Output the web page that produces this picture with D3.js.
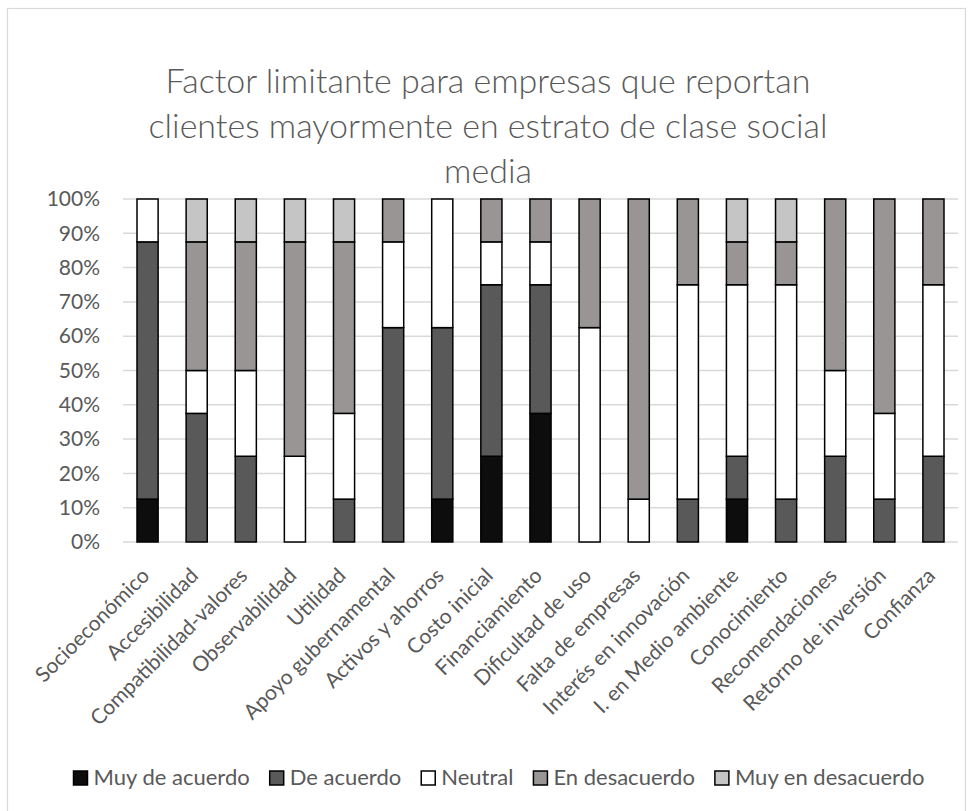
<!DOCTYPE html>
<html><head><meta charset="utf-8">
<script src="https://cdn.jsdelivr.net/npm/d3@7"></script>
<style>body{margin:0;background:#fff} text{font-family:Lato,"Open Sans",sans-serif}</style>
</head><body><svg id="c" width="974" height="811"></svg>
<script>
const categories = ["Socioeconómico","Accesibilidad","Compatibilidad-valores","Observabilidad","Utilidad","Apoyo gubernamental","Activos y ahorros","Costo inicial","Financiamiento","Dificultad de uso","Falta de empresas","Interés en innovación","I. en Medio ambiente","Conocimiento","Recomendaciones","Retorno de inversión","Confianza"];
const seriesNames = ["Muy de acuerdo","De acuerdo","Neutral","En desacuerdo","Muy en desacuerdo"];
const muyDeAcuerdo    = [12.5,0,0,0,0,0,12.5,25,37.5,0,0,0,12.5,0,0,0,0];
const deAcuerdo       = [75,37.5,25,0,12.5,62.5,50,50,37.5,0,0,12.5,12.5,12.5,25,12.5,25];
const neutral         = [12.5,12.5,25,25,25,25,37.5,12.5,12.5,62.5,12.5,62.5,50,62.5,25,25,50];
const enDesacuerdo    = [0,37.5,37.5,62.5,50,12.5,0,12.5,12.5,37.5,87.5,25,12.5,12.5,50,62.5,25];
const muyEnDesacuerdo = [0,12.5,12.5,12.5,12.5,0,0,0,0,0,0,0,12.5,12.5,0,0,0];
const yTicks = [0,10,20,30,40,50,60,70,80,90,100];
const colors = ["#0d0d0d","#595959","#ffffff","#989594","#c6c5c5"];
const titleLines = ["Factor limitante para empresas que reportan","clientes mayormente en estrato de clase social","media"];

const seriesValues = [muyDeAcuerdo, deAcuerdo, neutral, enDesacuerdo, muyEnDesacuerdo];
const rows = categories.map((c,i)=>{const r={cat:c}; seriesNames.forEach((s,k)=>r[s]=seriesValues[k][i]); return r;});
const stacked = d3.stack().keys(seriesNames)(rows);

const svg = d3.select("#c");
const textCol = "#595959";
svg.append("rect").attr("x",7.5).attr("y",8.5).attr("width",958).attr("height",820)
  .attr("fill","#fff").attr("stroke","#d9d9d9").attr("stroke-width",1.2);

const x = d3.scaleBand().domain(categories).range([123,958]).paddingInner(0.57).paddingOuter(0.285);
const y = d3.scaleLinear().domain([0,100]).range([542,199]);

// title
svg.append("g").selectAll("text").data(titleLines).join("text")
  .attr("x",488).attr("y",(d,i)=>93+i*45).attr("text-anchor","middle")
  .attr("font-size",34).attr("font-weight",300).attr("fill",textCol).text(d=>d);

// gridlines
svg.append("g").selectAll("line").data(yTicks).join("line")
  .attr("x1",123).attr("x2",958).attr("y1",d=>y(d)).attr("y2",d=>y(d))
  .attr("stroke","#d9d9d9").attr("stroke-width",1.5);

// y axis
const yAxis = svg.append("g").attr("transform","translate(100,0)")
  .call(d3.axisLeft(y).tickValues(yTicks).tickFormat(d=>d+"%").tickSize(0).tickPadding(0));
yAxis.select(".domain").remove();
yAxis.selectAll("text").attr("font-size",21).attr("fill",textCol).attr("font-family","Lato");

// bars
svg.append("g").selectAll("g").data(stacked).join("g").attr("fill",(d,i)=>colors[i])
  .selectAll("rect").data(d=>d.filter(s=>s[1]-s[0]>0)).join("rect")
  .attr("x",d=>x(d.data.cat)).attr("width",x.bandwidth())
  .attr("y",d=>y(d[1])).attr("height",d=>y(d[0])-y(d[1]))
  .attr("stroke","#000").attr("stroke-width",1.5);

// x axis labels
const xAxis = svg.append("g").attr("transform","translate(0,542)")
  .call(d3.axisBottom(x).tickSize(0).tickPadding(0));
xAxis.select(".domain").remove();
xAxis.selectAll("text").attr("font-size",21).attr("fill",textCol).attr("font-family","Lato")
  .attr("text-anchor","end").attr("dy",null).attr("y",0)
  .attr("transform","translate(3,35) rotate(-45)");

// legend
const lg = svg.append("g");
let cx = 0;
const items = lg.selectAll("g").data(seriesNames).join("g");
items.append("rect").attr("width",14).attr("height",14).attr("y",-14)
  .attr("fill",(d,i)=>colors[i]).attr("stroke","#000").attr("stroke-width",1.5);
items.append("text").attr("x",20).attr("y",0).attr("font-size",22).attr("fill",textCol).text(d=>d);
items.each(function(){
  const g = d3.select(this);
  g.attr("transform",`translate(${cx},0)`);
  cx += 20 + g.select("text").node().getComputedTextLength() + 20;
});
const total = cx - 20;
lg.attr("transform",`translate(${499-total/2},785)`);
</script></body></html>
